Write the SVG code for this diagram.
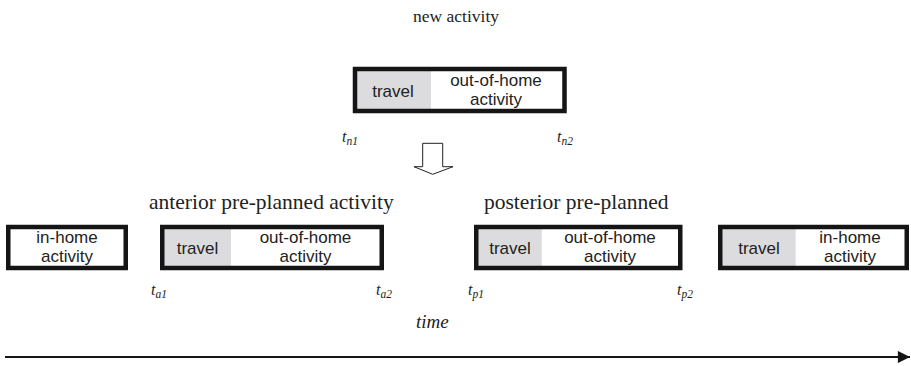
<svg xmlns="http://www.w3.org/2000/svg" width="911" height="366" viewBox="0 0 911 366">
<defs>
<style>
.box{fill:none;stroke:#151515;stroke-width:4.5}
.gray{fill:#dcdcde}
.bt{font-family:"Liberation Sans",Arial,sans-serif;font-size:17px;fill:#222;text-anchor:middle}
.ttl{font-family:"Liberation Serif","Times New Roman",serif;fill:#222}
.tl{font-family:"Liberation Serif","Times New Roman",serif;font-style:italic;font-size:16px;fill:#222}
.sub{font-size:11.5px}
</style>
<marker id="ah" viewBox="0 0 10 10" refX="10" refY="5" markerWidth="6" markerHeight="5.5" orient="auto" markerUnits="strokeWidth">
<path d="M0,0 L10,5 L0,10 z" fill="#151515"/>
</marker>
</defs>
<rect width="911" height="366" fill="#fff"/>

<text class="ttl" x="456" y="22" font-size="17.5" text-anchor="middle">new activity</text>

<g id="new-activity">
<rect class="gray" x="353" y="67" width="78" height="46"/>
<rect class="box" x="355" y="69" width="209.5" height="42"/>
<text class="bt" x="393" y="97">travel</text>
<text class="bt" x="496" y="86">out-of-home</text>
<text class="bt" x="496" y="105">activity</text>
</g>
<text class="tl" x="342" y="142">t<tspan class="sub" dy="3">n1</tspan></text>
<text class="tl" x="557" y="142">t<tspan class="sub" dy="3">n2</tspan></text>

<g id="shift-arrow">
<polygon points="422.7,143.3 442.7,143.3 442.7,166.7 453,166.7 432.7,174.3 414,166.7 422.7,166.7" fill="#fff" stroke="#222" stroke-width="1"/>
</g>

<text class="ttl" x="149" y="209" font-size="21.5">anterior pre-planned activity</text>
<text class="ttl" x="484" y="209" font-size="21.5">posterior pre-planned</text>

<g id="in-home-1">
<rect class="box" x="8.25" y="227" width="117.5" height="41"/>
<text class="bt" x="67" y="243">in-home</text>
<text class="bt" x="67" y="262">activity</text>
</g>

<g id="anterior">
<rect class="gray" x="160" y="225" width="71" height="45"/>
<rect class="box" x="162.25" y="227" width="219.5" height="41"/>
<text class="bt" x="197.5" y="254">travel</text>
<text class="bt" x="305.5" y="243">out-of-home</text>
<text class="bt" x="305.5" y="262">activity</text>
</g>

<g id="posterior">
<rect class="gray" x="474" y="225" width="67.7" height="45"/>
<rect class="box" x="476.25" y="227" width="204" height="41"/>
<text class="bt" x="510" y="254">travel</text>
<text class="bt" x="610" y="243">out-of-home</text>
<text class="bt" x="610" y="262">activity</text>
</g>

<g id="in-home-2">
<rect class="gray" x="718" y="225" width="77.7" height="45"/>
<rect class="box" x="720.25" y="227" width="186.5" height="41"/>
<text class="bt" x="759" y="254">travel</text>
<text class="bt" x="850" y="243">in-home</text>
<text class="bt" x="850" y="262">activity</text>
</g>

<text class="tl" x="151" y="295">t<tspan class="sub" dy="3">a1</tspan></text>
<text class="tl" x="376" y="295">t<tspan class="sub" dy="3">a2</tspan></text>
<text class="tl" x="468" y="295">t<tspan class="sub" dy="3">p1</tspan></text>
<text class="tl" x="677" y="295">t<tspan class="sub" dy="3">p2</tspan></text>

<text class="ttl" x="416" y="328" font-size="19" font-style="italic">time</text>

<g id="connectors">
<line x1="5" y1="357" x2="910" y2="357" stroke="#151515" stroke-width="2.2" marker-end="url(#ah)"/>
</g>
</svg>
